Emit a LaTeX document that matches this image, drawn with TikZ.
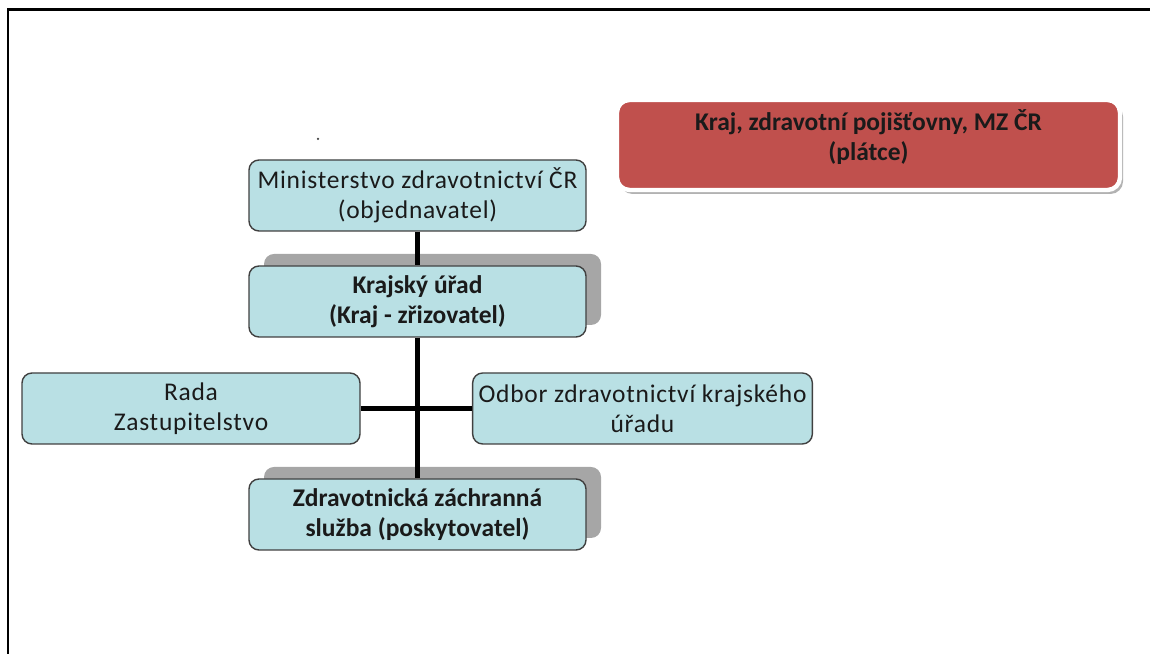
\documentclass[tikz,border=0pt]{standalone}
\usepackage{fontspec}
\setmainfont{Carlito}
\usepackage{tikz}
\usetikzlibrary{positioning, shadows, calc}
\usepackage{xcolor}
\definecolor{boxblue}{RGB}{185, 224, 228}
\definecolor{boxedge}{RGB}{64, 64, 64}
\definecolor{payerred}{RGB}{192, 80, 77}
\definecolor{inktext}{RGB}{26, 26, 26}

\begin{document}
\begin{tikzpicture}[
    orgbox/.style={draw=boxedge, line width=0.8pt, fill=boxblue, rounded corners=0.2cm,
      minimum width=6.74cm, minimum height=1.42cm, align=center, text=inktext,
      font=\fontsize{14.5}{17}\selectfont\addfontfeature{LetterSpace=3}},
    keybox/.style={orgbox, font=\fontsize{14.5}{17}\selectfont\bfseries,
      drop shadow={shadow xshift=0.3cm, shadow yshift=0.24cm, fill=black!35, opacity=1}},
    payerbox/.style={draw=white, line width=2.5pt, fill=payerred, rounded corners=0.25cm,
      minimum width=10.06cm, minimum height=1.8cm,
      drop shadow={shadow xshift=0.06cm, shadow yshift=-0.08cm, fill=black!30, opacity=1}},
    link/.style={line width=2.3pt, black}
  ]
  \useasboundingbox (0,0) rectangle (23,13.08);
  \draw[line width=1.7pt] (23,12.88) -- (0.16,12.88) -- (0.16,0);

  \fill[boxedge] (6.36,10.30) circle (0.025);

  \node[orgbox] (mzcr) at (8.35, 9.17) {Ministerstvo zdravotnictví ČR\\(objednavatel)};
  \node[keybox] (kraj) at (8.35, 7.05) {Krajský úřad\\(Kraj - zřizovatel)};
  \node[orgbox, minimum width=6.76cm] (rada) at (3.82, 4.91) {Rada\\Zastupitelstvo};
  \node[orgbox] (odbor) at (12.85, 4.91) {Odbor zdravotnictví krajského\\úřadu};
  \node[keybox] (zzs) at (8.35, 2.79) {Zdravotnická záchranná\\služba (poskytovatel)};

  \node[payerbox] (platce) at (17.37, 10.18) {};
  \node[font=\fontsize{14.5}{17}\selectfont\bfseries, text=inktext, align=center] (platcetext)
    at ([yshift=0.16cm]platce.center) {Kraj, zdravotní pojišťovny, MZ ČR\\(plátce)};

  \draw[link] (mzcr) -- (kraj);
  \draw[link] (kraj) -- (zzs);
  \draw[link] (rada) -- (odbor);
\end{tikzpicture}
\end{document}
